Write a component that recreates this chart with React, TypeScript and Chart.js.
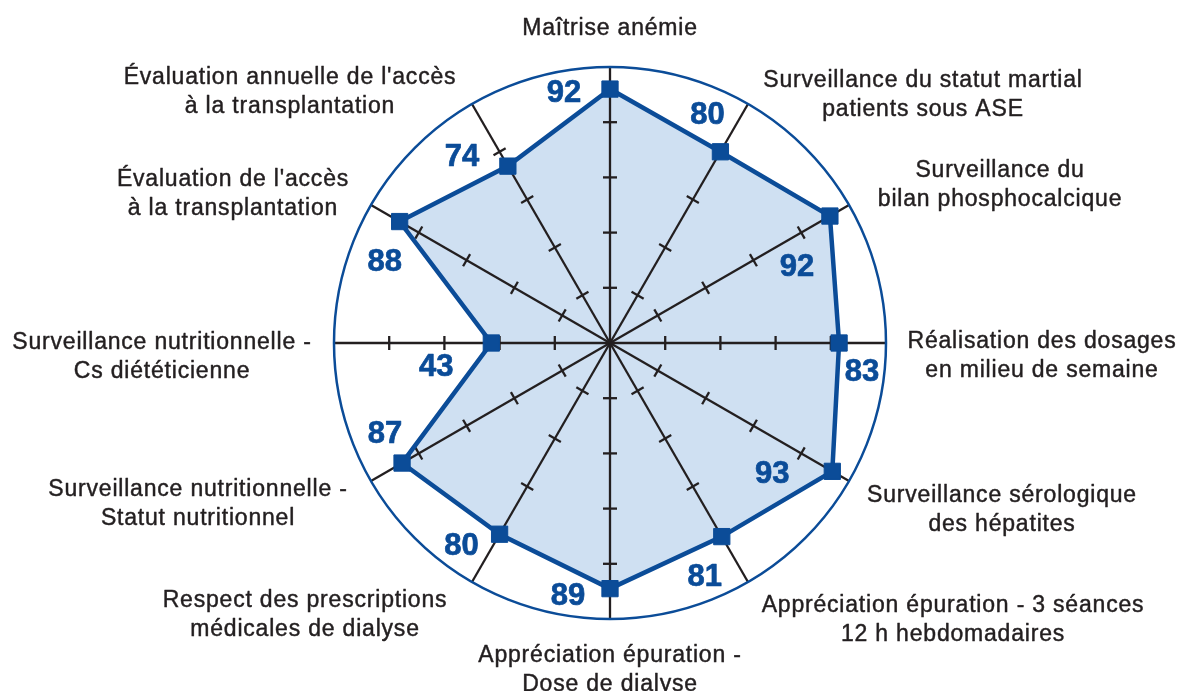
import React, { useEffect, useRef } from 'react';
import { Chart, registerables } from 'chart.js';

Chart.register(...registerables);

const categories: string[][] = [
  ['Maîtrise anémie'],
  ['Surveillance du statut martial', 'patients sous ASE'],
  ['Surveillance du', 'bilan phosphocalcique'],
  ['Réalisation des dosages', 'en milieu de semaine'],
  ['Surveillance sérologique', 'des hépatites'],
  ['Appréciation épuration - 3 séances', '12 h hebdomadaires'],
  ['Appréciation épuration -', 'Dose de dialyse'],
  ['Respect des prescriptions', 'médicales de dialyse'],
  ['Surveillance nutritionnelle -', 'Statut nutritionnel'],
  ['Surveillance nutritionnelle -', 'Cs diététicienne'],
  ["Évaluation de l'accès", 'à la transplantation'],
  ["Évaluation annuelle de l'accès", 'à la transplantation'],
];

const values: number[] = [92, 80, 92, 83, 93, 81, 89, 80, 87, 43, 88, 74];

const tickValues: number[] = [20, 40, 60, 80];

const BLUE = '#0b4c98';
const FILL = '#cfe0f2';
const INK = '#231f20';
const LABEL_FONT = '"Liberation Sans", Arial, Helvetica, sans-serif';

// label block center offsets from the outer-circle point of each spoke
const labelOffsets: [number, number][] = [
  [0, -40], [175, -11], [151, -22], [156, 11], [153, 27], [205, 36],
  [0, 49], [-167, 31], [-173, 21], [-172, 12], [-138, -13], [-182, -14],
];
// value text center offsets from each data point
const valueOffsets: [number, number][] = [
  [-46, 2], [-13, -39], [-33, 49], [23, 27], [-60, 1], [-17, 38],
  [-42, 5], [-38, 10], [-17, -31], [-55, 22], [-15, 38], [-46, -11],
];

const radarDecor = {
  id: 'radarDecor',
  afterDatasetDraw(chart: any, args: any) {
    if (args.index !== 1) return;
    const scale = chart.scales.r;
    const ctx = chart.ctx as CanvasRenderingContext2D;
    ctx.save();
    ctx.strokeStyle = INK;
    ctx.lineWidth = 2.3;
    ctx.lineCap = 'butt';
    for (let i = 0; i < categories.length; i++) {
      const c = scale.getPointPositionForValue(i, 0);
      const e = scale.getPointPositionForValue(i, 100);
      ctx.beginPath();
      ctx.moveTo(c.x, c.y);
      ctx.lineTo(e.x, e.y);
      ctx.stroke();
      const a = scale.getIndexAngle(i) - Math.PI / 2;
      const px = -Math.sin(a);
      const py = Math.cos(a);
      for (const t of tickValues) {
        const p = scale.getPointPositionForValue(i, t);
        ctx.beginPath();
        ctx.moveTo(p.x - px * 7, p.y - py * 7);
        ctx.lineTo(p.x + px * 7, p.y + py * 7);
        ctx.stroke();
      }
    }
    ctx.strokeStyle = BLUE;
    ctx.lineWidth = 2.5;
    ctx.beginPath();
    ctx.arc(scale.xCenter, scale.yCenter, scale.getDistanceFromCenterForValue(100), 0, Math.PI * 2);
    ctx.stroke();
    ctx.restore();
  },
  afterDatasetsDraw(chart: any) {
    const scale = chart.scales.r;
    const ctx = chart.ctx as CanvasRenderingContext2D;
    ctx.save();
    // category labels
    const fs = 23;
    ctx.font = `${fs}px ${LABEL_FONT}`;
    (ctx as any).letterSpacing = '0.8px';
    ctx.fillStyle = INK;
    ctx.strokeStyle = INK;
    ctx.lineWidth = 0.45;
    ctx.lineJoin = 'round';
    ctx.textAlign = 'center';
    ctx.textBaseline = 'alphabetic';
    const lh = 29;
    categories.forEach((lines, i) => {
      const e = scale.getPointPositionForValue(i, 100);
      const cx = e.x + labelOffsets[i][0];
      const cy = e.y + labelOffsets[i][1];
      lines.forEach((ln, k) => {
        const y = cy + (k - (lines.length - 1) / 2) * lh + fs * 0.716 / 2;
        ctx.fillText(ln, cx, y);
        ctx.strokeText(ln, cx, y);
      });
    });
    // value labels
    const vs = 31;
    (ctx as any).letterSpacing = '0px';
    ctx.font = `bold ${vs}px ${LABEL_FONT}`;
    ctx.fillStyle = BLUE;
    ctx.strokeStyle = BLUE;
    ctx.lineWidth = 0.7;
    values.forEach((v, i) => {
      const p = scale.getPointPositionForValue(i, v);
      const x = p.x + valueOffsets[i][0];
      const y = p.y + valueOffsets[i][1] + vs * 0.716 / 2;
      ctx.fillText(String(v), x, y);
      ctx.strokeText(String(v), x, y);
    });
    ctx.restore();
  },
};

export default function App() {
  const ref = useRef<HTMLCanvasElement | null>(null);
  useEffect(() => {
    document.body.style.margin = '0';
    if (!ref.current) return;
    const chart = new Chart(ref.current, {
      type: 'radar',
      data: {
        labels: categories.map((c) => c.join(' ')),
        datasets: [
          {
            data: values,
            fill: false,
            borderColor: BLUE,
            borderWidth: 4.5,
            borderJoinStyle: 'miter',
            pointStyle: 'rect',
            pointRadius: 11.5,
            pointBackgroundColor: BLUE,
            pointBorderColor: BLUE,
            pointBorderWidth: 1,
            order: 0,
          },
          {
            data: values,
            fill: true,
            backgroundColor: FILL,
            borderColor: 'rgba(0,0,0,0)',
            borderWidth: 0,
            pointRadius: 0,
            order: 1,
          },
        ],
      } as any,
      options: {
        animation: false,
        responsive: false,
        devicePixelRatio: 1,
        layout: { padding: { left: 38, right: 0, top: 67, bottom: 72 } },
        scales: {
          r: {
            min: 0,
            max: 100,
            ticks: { display: false, stepSize: 20 },
            grid: { display: false },
            angleLines: { display: false },
            pointLabels: { display: false },
          },
        },
        plugins: {
          legend: { display: false },
          tooltip: { enabled: false },
        },
      } as any,
      plugins: [radarDecor],
    });
    return () => chart.destroy();
  }, []);
  return (
    <div style={{ position: 'fixed', left: 0, top: 0, width: 1182, height: 691, background: '#fff' }}>
      <canvas ref={ref} width={1182} height={691} style={{ display: 'block' }} />
    </div>
  );
}
